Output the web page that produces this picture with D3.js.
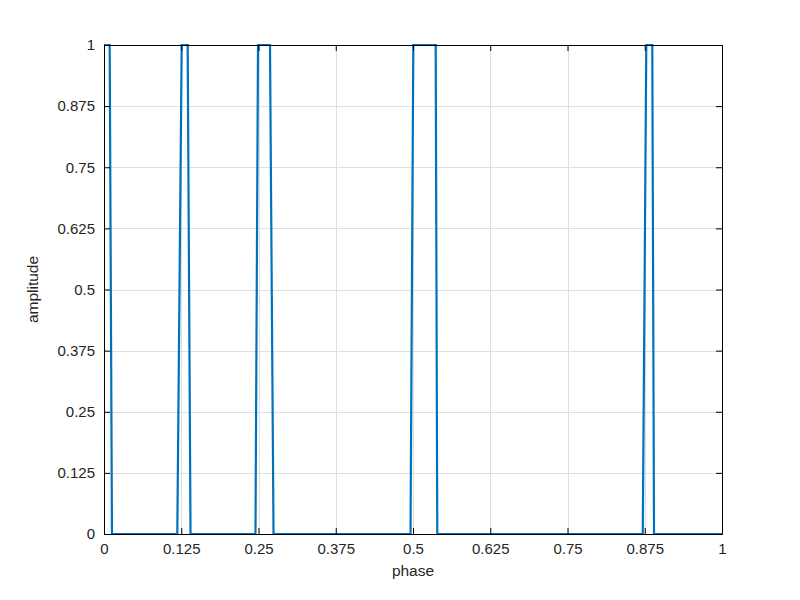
<!DOCTYPE html>
<html>
<head>
<meta charset="utf-8">
<script src="https://cdn.jsdelivr.net/npm/d3@7/dist/d3.min.js"></script>
<style>
  html, body { margin: 0; padding: 0; background: #ffffff; }
  svg { display: block; }
  text { font-family: "Liberation Sans", Arial, sans-serif; }
</style>
</head>
<body>
<svg id="chart" width="800" height="600"></svg>
<script>
// Data (polyline of the pulse train)
const phase = [0, 0.0092, 0.0129, 0.1186, 0.1257, 0.1354, 0.14, 0.2451, 0.2492, 0.2686, 0.2743,
               0.496, 0.5005, 0.5367, 0.5393, 0.8718, 0.8775, 0.8872, 0.89, 1];
const amplitude = [1, 1, 0, 0, 1, 1, 0, 0, 1, 1, 0, 0, 1, 1, 0, 0, 1, 1, 0, 0];
const xTicks = [0, 0.125, 0.25, 0.375, 0.5, 0.625, 0.75, 0.875, 1];
const yTicks = [0, 0.125, 0.25, 0.375, 0.5, 0.625, 0.75, 0.875, 1];
const xLabel = "phase";
const yLabel = "amplitude";

const svg = d3.select("#chart");
const pLeft = 104, pRight = 722, pTop = 45, pBottom = 534;
const x = d3.scaleLinear().domain([0, 1]).range([pLeft, pRight]);
const y = d3.scaleLinear().domain([0, 1]).range([pBottom, pTop]);
const fmt = d => String(d);

// grid
const grid = svg.append("g");
grid.selectAll(".gx").data(xTicks).enter().append("line")
  .attr("x1", d => Math.round(x(d)) + 0.5).attr("x2", d => Math.round(x(d)) + 0.5)
  .attr("y1", pTop).attr("y2", pBottom)
  .attr("stroke", "#dfdfdf").attr("stroke-width", 1);
grid.selectAll(".gy").data(yTicks).enter().append("line")
  .attr("y1", d => Math.round(y(d)) + 0.5).attr("y2", d => Math.round(y(d)) + 0.5)
  .attr("x1", pLeft).attr("x2", pRight)
  .attr("stroke", "#dfdfdf").attr("stroke-width", 1);

// data line
const pts = phase.map((p, i) => [p, amplitude[i]]);
svg.append("path")
  .datum(pts)
  .attr("d", d3.line().x(d => x(d[0])).y(d => y(d[1])))
  .attr("fill", "none")
  .attr("stroke", "#0072BD")
  .attr("stroke-width", 2.2)
  .attr("stroke-linejoin", "miter");

// axes
const tickLen = 6;
const axB = d3.axisBottom(x).tickValues(xTicks).tickFormat(fmt).tickSizeInner(-tickLen).tickSizeOuter(0).tickPadding(9);
const axT = d3.axisTop(x).tickValues(xTicks).tickFormat("").tickSizeInner(-tickLen).tickSizeOuter(0);
const axL = d3.axisLeft(y).tickValues(yTicks).tickFormat(fmt).tickSizeInner(-tickLen).tickSizeOuter(0).tickPadding(9);
const axR = d3.axisRight(y).tickValues(yTicks).tickFormat("").tickSizeInner(-tickLen).tickSizeOuter(0);

function style(g) {
  g.selectAll(".domain").attr("stroke", "#000").attr("stroke-width", 1);
  g.selectAll(".tick line").attr("stroke", "#000");
  g.selectAll(".tick text").attr("fill", "#262626").style("font-size", "15px")
    .style("font-family", "'Liberation Sans', Arial, sans-serif");
}
svg.append("g").attr("transform", `translate(0,${pBottom})`).call(axB).call(style);
svg.append("g").attr("transform", `translate(0,${pTop})`).call(axT).call(style);
svg.append("g").attr("transform", `translate(${pLeft},0)`).call(axL).call(style);
svg.append("g").attr("transform", `translate(${pRight},0)`).call(axR).call(style);

// labels
svg.append("text")
  .attr("x", (pLeft + pRight) / 2).attr("y", 576)
  .attr("text-anchor", "middle")
  .attr("fill", "#262626").style("font-size", "15.5px")
  .text(xLabel);
svg.append("text")
  .attr("transform", `translate(38,${(pTop + pBottom) / 2}) rotate(-90)`)
  .attr("text-anchor", "middle")
  .attr("fill", "#262626").style("font-size", "15.5px")
  .text(yLabel);
</script>
</body>
</html>
